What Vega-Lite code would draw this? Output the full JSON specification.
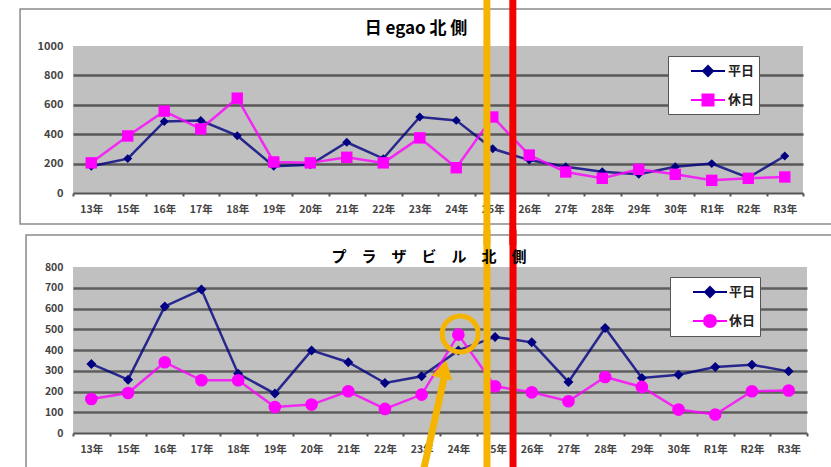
{
  "$schema": "https://vega.github.io/schema/vega-lite/v6.json",
  "background": "white",
  "padding": {"left": 19, "top": -4, "right": 0, "bottom": 0},
  "bounds": "flush",
  "spacing": 74,
  "resolve": {"scale": {"color": "independent"}, "legend": {"color": "independent"}},
  "config": {
    "font": "Noto Sans CJK JP",
    "view": {"fill": "#c0c0c0", "stroke": null},
    "axis": {"labelFont": "Noto Sans CJK JP", "labelFontWeight": "bold", "labelColor": "#444", "labelFontSize": 10.5, "title": null},
    "title": {"font": "Noto Sans CJK JP", "fontWeight": "bold", "color": "#000", "anchor": "middle", "frame": "group"}
  },
  "datasets": {
    "egao": [
      {"year": "13年", "type": "平日", "value": 182}, {"year": "15年", "type": "平日", "value": 234},
      {"year": "16年", "type": "平日", "value": 487}, {"year": "17年", "type": "平日", "value": 493},
      {"year": "18年", "type": "平日", "value": 390}, {"year": "19年", "type": "平日", "value": 182},
      {"year": "20年", "type": "平日", "value": 192}, {"year": "21年", "type": "平日", "value": 345},
      {"year": "22年", "type": "平日", "value": 234}, {"year": "23年", "type": "平日", "value": 517},
      {"year": "24年", "type": "平日", "value": 494}, {"year": "25年", "type": "平日", "value": 301},
      {"year": "26年", "type": "平日", "value": 224}, {"year": "27年", "type": "平日", "value": 179},
      {"year": "28年", "type": "平日", "value": 145}, {"year": "29年", "type": "平日", "value": 127},
      {"year": "30年", "type": "平日", "value": 179}, {"year": "R1年", "type": "平日", "value": 200},
      {"year": "R2年", "type": "平日", "value": 104}, {"year": "R3年", "type": "平日", "value": 252},
      {"year": "13年", "type": "休日", "value": 205}, {"year": "15年", "type": "休日", "value": 388},
      {"year": "16年", "type": "休日", "value": 557}, {"year": "17年", "type": "休日", "value": 436},
      {"year": "18年", "type": "休日", "value": 645}, {"year": "19年", "type": "休日", "value": 211},
      {"year": "20年", "type": "休日", "value": 205}, {"year": "21年", "type": "休日", "value": 243},
      {"year": "22年", "type": "休日", "value": 205}, {"year": "23年", "type": "休日", "value": 375},
      {"year": "24年", "type": "休日", "value": 172}, {"year": "25年", "type": "休日", "value": 517},
      {"year": "26年", "type": "休日", "value": 258}, {"year": "27年", "type": "休日", "value": 143},
      {"year": "28年", "type": "休日", "value": 100}, {"year": "29年", "type": "休日", "value": 161},
      {"year": "30年", "type": "休日", "value": 127}, {"year": "R1年", "type": "休日", "value": 86},
      {"year": "R2年", "type": "休日", "value": 100}, {"year": "R3年", "type": "休日", "value": 109}
    ],
    "plaza": [
      {"year": "13年", "type": "平日", "value": 333}, {"year": "15年", "type": "平日", "value": 257},
      {"year": "16年", "type": "平日", "value": 610}, {"year": "17年", "type": "平日", "value": 691},
      {"year": "18年", "type": "平日", "value": 286}, {"year": "19年", "type": "平日", "value": 190},
      {"year": "20年", "type": "平日", "value": 398}, {"year": "21年", "type": "平日", "value": 341},
      {"year": "22年", "type": "平日", "value": 241}, {"year": "23年", "type": "平日", "value": 273},
      {"year": "24年", "type": "平日", "value": 398}, {"year": "25年", "type": "平日", "value": 463},
      {"year": "26年", "type": "平日", "value": 437}, {"year": "27年", "type": "平日", "value": 246},
      {"year": "28年", "type": "平日", "value": 506}, {"year": "29年", "type": "平日", "value": 265},
      {"year": "30年", "type": "平日", "value": 281}, {"year": "R1年", "type": "平日", "value": 318},
      {"year": "R2年", "type": "平日", "value": 329}, {"year": "R3年", "type": "平日", "value": 297},
      {"year": "13年", "type": "休日", "value": 164}, {"year": "15年", "type": "休日", "value": 193},
      {"year": "16年", "type": "休日", "value": 341}, {"year": "17年", "type": "休日", "value": 254},
      {"year": "18年", "type": "休日", "value": 254}, {"year": "19年", "type": "休日", "value": 125},
      {"year": "20年", "type": "休日", "value": 137}, {"year": "21年", "type": "休日", "value": 201},
      {"year": "22年", "type": "休日", "value": 116}, {"year": "23年", "type": "休日", "value": 185},
      {"year": "24年", "type": "休日", "value": 474}, {"year": "25年", "type": "休日", "value": 225},
      {"year": "26年", "type": "休日", "value": 196}, {"year": "27年", "type": "休日", "value": 153},
      {"year": "28年", "type": "休日", "value": 270}, {"year": "29年", "type": "休日", "value": 222},
      {"year": "30年", "type": "休日", "value": 113}, {"year": "R1年", "type": "休日", "value": 89},
      {"year": "R2年", "type": "休日", "value": 201}, {"year": "R3年", "type": "休日", "value": 205}
    ]
  },
  "vconcat": [
    {
      "width": 730,
      "height": 147,
      "title": {"text": "日 egao 北 側", "fontSize": 17, "offset": -41, "dx": -22, "frame": "group"},
      "resolve": {"scale": {"x": "independent"}, "axis": {"x": "independent", "y": "independent"}},
      "layer": [
        {
          "data": {"values": [{}]},
          "mark": {"type": "rect", "fill": "transparent", "stroke": "#8a8a8a", "strokeWidth": 1.5},
          "encoding": {
            "x": {"datum": -1.45, "type": "quantitative", "scale": {"domain": [0, 20], "nice": false, "zero": false}, "axis": null},
            "x2": {"datum": 21.5},
            "y": {"datum": 1252, "type": "quantitative", "scale": {"domain": [0, 1000], "nice": false}, "axis": null},
            "y2": {"datum": -211}
          }
        },
        {
          "data": {"name": "egao"},
          "encoding": {
            "x": {"field": "year", "type": "ordinal", "sort": ["13年","15年","16年","17年","18年","19年","20年","21年","22年","23年","24年","25年","26年","27年","28年","29年","30年","R1年","R2年","R3年"],
                  "scale": {"type": "band", "paddingInner": 0, "paddingOuter": 0}, "bandPosition": 0.5,
                  "axis": {"orient": "bottom", "labelAngle": 0, "labelOverlap": false, "labelPadding": 8, "tickBand": "extent", "ticks": true, "tickSize": 3, "tickWidth": 2, "tickColor": "#555", "domainColor": "#555", "domainWidth": 2, "grid": false}},
            "y": {"field": "value", "type": "quantitative", "scale": {"domain": [0, 1000], "nice": false},
                  "axis": {"orient": "left", "values": [0, 200, 400, 600, 800, 1000], "format": "d", "labelOverlap": false, "labelFontSize": 11, "domain": false, "ticks": false, "labelPadding": 10, "grid": true, "gridWidth": 2.5,
                           "gridColor": {"condition": {"test": "datum.value === 1000 || datum.value === 0", "value": "transparent"}, "value": "#585858"}}},
            "color": {"field": "type", "type": "nominal", "scale": {"domain": ["平日", "休日"], "range": ["#000080", "#ff00ff"]},
                      "legend": {"title": null, "orient": "none", "legendX": 595, "legendY": 10, "fillColor": "white", "strokeColor": "#555", "padding": 4,
                                 "labelFont": "Noto Sans CJK JP", "labelFontSize": 13, "labelFontWeight": "bold", "labelColor": "#222",
                                 "labelExpr": "datum.label + '\u3000\u3000'",
                                 "symbolSize": 400, "symbolStrokeWidth": 2, "rowPadding": 9, "labelOffset": 34,
                                 "encode": {"symbols": {"update": {
                                   "shape": {"signal": "datum.value === '平日' ? 'M0.8,0H4.2M2.5,-0.5L3,0L2.5,0.5L2,0Z' : 'M0.8,0H4.2M1.95,-0.55H3.05V0.55H1.95Z'"},
                                   "stroke": {"signal": "datum.value === '平日' ? '#1a1a80' : '#f0a0f0'"},
                                   "strokeWidth": {"value": 2}, "strokeOpacity": {"value": 1}, "fillOpacity": {"value": 1}}}}}}
          },
          "layer": [
            {"mark": {"type": "line", "strokeWidth": 2.5, "strokeOpacity": 0.8}},
            {"transform": [{"filter": "datum.type === '平日'"}],
             "mark": {"type": "point", "shape": "diamond", "size": 80, "filled": true, "opacity": 1}},
            {"transform": [{"filter": "datum.type === '休日'"}],
             "mark": {"type": "point", "shape": "square", "size": 130, "filled": true, "opacity": 1}}
          ]
        },
        {
          "data": {"values": [{}]},
          "layer": [
            {"mark": {"type": "rule", "color": "#f5b400", "strokeWidth": 7, "strokeCap": "square"},
             "encoding": {
               "x": {"datum": 11.34, "type": "quantitative", "scale": {"domain": [0, 20], "nice": false, "zero": false}, "axis": null},
               "y": {"datum": 1303, "type": "quantitative", "scale": {"domain": [0, 1000], "nice": false}, "axis": null},
               "y2": {"datum": -330}}},
            {"mark": {"type": "rule", "color": "#f20000", "strokeWidth": 7, "strokeCap": "square"},
             "encoding": {
               "x": {"datum": 12.05, "type": "quantitative", "scale": {"domain": [0, 20], "nice": false, "zero": false}, "axis": null},
               "y": {"datum": 1303, "type": "quantitative", "scale": {"domain": [0, 1000], "nice": false}, "axis": null},
               "y2": {"datum": -330}}}
          ]
        }
      ]
    },
    {
      "width": 734,
      "height": 166,
      "title": {"text": "プ　ラ　ザ　ビ　ル　北　側", "fontSize": 15, "offset": -39, "dx": -11, "frame": "group"},
      "resolve": {"scale": {"x": "independent"}, "axis": {"x": "independent", "y": "independent"}},
      "layer": [
        {
          "data": {"values": [{}]},
          "mark": {"type": "rect", "fill": "transparent", "stroke": "#8a8a8a", "strokeWidth": 1.5},
          "encoding": {
            "x": {"datum": -1.28, "type": "quantitative", "scale": {"domain": [0, 20], "nice": false, "zero": false}, "axis": null},
            "x2": {"datum": 21.5},
            "y": {"datum": 954, "type": "quantitative", "scale": {"domain": [0, 800], "nice": false}, "axis": null},
            "y2": {"datum": -200}
          }
        },
        {
          "data": {"name": "plaza"},
          "encoding": {
            "x": {"field": "year", "type": "ordinal", "sort": ["13年","15年","16年","17年","18年","19年","20年","21年","22年","23年","24年","25年","26年","27年","28年","29年","30年","R1年","R2年","R3年"],
                  "scale": {"type": "band", "paddingInner": 0, "paddingOuter": 0}, "bandPosition": 0.5,
                  "axis": {"orient": "bottom", "labelAngle": 0, "labelOverlap": false, "labelPadding": 8, "tickBand": "extent", "ticks": true, "tickSize": 3, "tickWidth": 2, "tickColor": "#555", "domainColor": "#555", "domainWidth": 2, "grid": false}},
            "y": {"field": "value", "type": "quantitative", "scale": {"domain": [0, 800], "nice": false},
                  "axis": {"orient": "left", "values": [0, 100, 200, 300, 400, 500, 600, 700, 800], "format": "d", "labelOverlap": false, "labelFontSize": 10.5, "domain": false, "ticks": false, "labelPadding": 10, "grid": true, "gridWidth": 2.5,
                           "gridColor": {"condition": {"test": "datum.value === 800 || datum.value === 0", "value": "transparent"}, "value": "#5e5e5e"}}},
            "color": {"field": "type", "type": "nominal", "scale": {"domain": ["平日", "休日"], "range": ["#000080", "#ff00ff"]},
                      "legend": {"title": null, "orient": "none", "legendX": 597, "legendY": 10, "fillColor": "white", "strokeColor": "#555", "padding": 4,
                                 "labelFont": "Noto Sans CJK JP", "labelFontSize": 13, "labelFontWeight": "bold", "labelColor": "#222",
                                 "labelExpr": "datum.label + '\u3000\u3000'",
                                 "symbolSize": 400, "symbolStrokeWidth": 2, "rowPadding": 9, "labelOffset": 33,
                                 "encode": {"symbols": {"update": {
                                   "shape": {"signal": "datum.value === '平日' ? 'M0.8,0H4.2M2.5,-0.5L3,0L2.5,0.5L2,0Z' : 'M0.8,0H4.2M3.1,0A0.6,0.6 0 1,1 1.9,0A0.6,0.6 0 1,1 3.1,0Z'"},
                                   "stroke": {"signal": "datum.value === '平日' ? '#a0a8cc' : '#ee44ee'"},
                                   "strokeWidth": {"value": 2}, "strokeOpacity": {"value": 1}, "fillOpacity": {"value": 1}}}}}}
          },
          "layer": [
            {"mark": {"type": "line", "strokeWidth": 2.5, "strokeOpacity": 0.8}},
            {"transform": [{"filter": "datum.type === '平日'"}],
             "mark": {"type": "point", "shape": "diamond", "size": 100, "filled": true, "opacity": 1}},
            {"transform": [{"filter": "datum.type === '休日'"}],
             "mark": {"type": "point", "shape": "circle", "size": 160, "filled": true, "opacity": 1}}
          ]
        },
        {
          "data": {"values": [{}]},
          "layer": [
            {"mark": {"type": "rule", "color": "#f5b400", "strokeWidth": 7},
             "encoding": {
               "x": {"datum": 11.28, "type": "quantitative", "scale": {"domain": [0, 20], "nice": false, "zero": false}, "axis": null},
               "y": {"datum": 980, "type": "quantitative", "scale": {"domain": [0, 800], "nice": false}, "axis": null},
               "y2": {"datum": -180}}},
            {"mark": {"type": "rule", "color": "#f20000", "strokeWidth": 7},
             "encoding": {
               "x": {"datum": 11.99, "type": "quantitative", "scale": {"domain": [0, 20], "nice": false, "zero": false}, "axis": null},
               "y": {"datum": 980, "type": "quantitative", "scale": {"domain": [0, 800], "nice": false}, "axis": null},
               "y2": {"datum": -180}}},
            {"mark": {"type": "point", "shape": "circle", "filled": false, "color": "#f5b400", "strokeWidth": 5, "size": 1300, "opacity": 1},
             "encoding": {
               "x": {"datum": 10.55, "type": "quantitative", "scale": {"domain": [0, 20], "nice": false, "zero": false}, "axis": null},
               "y": {"datum": 477, "type": "quantitative", "scale": {"domain": [0, 800], "nice": false}, "axis": null}}},
            {"mark": {"type": "rule", "color": "#f5b400", "strokeWidth": 7},
             "encoding": {
               "x": {"datum": 9.55, "type": "quantitative", "scale": {"domain": [0, 20], "nice": false, "zero": false}, "axis": null},
               "x2": {"datum": 10.13},
               "y": {"datum": -180, "type": "quantitative", "scale": {"domain": [0, 800], "nice": false}, "axis": null},
               "y2": {"datum": 280}}},
            {"mark": {"type": "point", "shape": "triangle-up", "filled": true, "color": "#f5b400", "size": 450, "angle": 13, "opacity": 1},
             "encoding": {
               "x": {"datum": 10.11, "type": "quantitative", "scale": {"domain": [0, 20], "nice": false, "zero": false}, "axis": null},
               "y": {"datum": 308, "type": "quantitative", "scale": {"domain": [0, 800], "nice": false}, "axis": null}}}
          ]
        }
      ]
    }
  ]
}
